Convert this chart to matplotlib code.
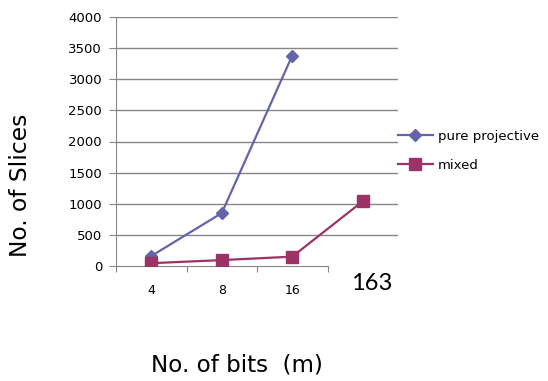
import matplotlib
matplotlib.use("Agg")
import matplotlib.pyplot as plt
import numpy as np

# Data
categories = ["4", "8", "16", "163"]
pure_projective = [160, 850, 3380]
mixed = [45, 95, 150, 1040]
y_ticks = [0, 500, 1000, 1500, 2000, 2500, 3000, 3500, 4000]

grid_col = "#868686"
blue = "#6464A8"
plum = "#9B3366"
FONT = "DejaVu Sans"

fig = plt.figure(figsize=(5.48, 3.81), dpi=100)
ax = fig.add_axes([116 / 548, 1 - 266 / 381, 282 / 548, 249 / 381])

x_all = np.arange(len(categories))
ax.plot(x_all[:len(pure_projective)], pure_projective, color=blue, lw=1.6,
        marker="D", markersize=6, label="pure projective", zorder=3)
ax.plot(x_all, mixed, color=plum, lw=1.6, marker="s", markersize=8,
        label="mixed", zorder=3)

ax.set_xlim(-0.5, len(categories) - 0.5)
ax.set_ylim(0, 4000)

# y axis
ax.set_yticks(y_ticks)
ax.set_yticklabels([str(v) for v in y_ticks], fontfamily=FONT, fontsize=9.5)
ax.yaxis.grid(True, color=grid_col, lw=1.0)
ax.get_ygridlines()[0].set_visible(False)
ax.tick_params(axis="y", length=5, color=grid_col, pad=5)

# x axis: boundary ticks, labels centred on the first three categories
ax.set_xticks(np.arange(-0.5, 3.0, 1.0))
ax.set_xticklabels([])
ax.set_xticks(x_all[:3], minor=True)
ax.set_xticklabels(categories[:3], minor=True, fontfamily=FONT, fontsize=9)
ax.tick_params(axis="x", which="major", length=4, color=grid_col)
ax.tick_params(axis="x", which="minor", length=0, pad=13)

for s in ["top", "right"]:
    ax.spines[s].set_visible(False)
ax.spines["left"].set_color(grid_col)
ax.spines["bottom"].set_color(grid_col)
ax.spines["bottom"].set_bounds(-0.5, 2.5)
ax.set_axisbelow(True)

# last category label drawn large beside the axis
ax.annotate(categories[3], xy=(x_all[3], 0), xytext=(9, -17),
            textcoords="offset pixels", ha="center", va="center",
            fontfamily="Lato", fontsize=17, annotation_clip=False)

fig.text(21 / 548, 1 - 185 / 381, "No. of Slices", rotation=90,
         ha="center", va="center", fontfamily=FONT, fontsize=16.8)
fig.text(236.5 / 548, 1 - 365 / 381, "No. of bits  (m)", ha="center",
         va="center", fontfamily=FONT, fontsize=16.6)

fig.legend(loc="center left", bbox_to_anchor=(398 / 548, 1 - 151 / 381),
           frameon=False, borderpad=0, borderaxespad=0, handlelength=2.65,
           handletextpad=0.4, labelspacing=1.2,
           prop={"family": FONT, "size": 9.5})

fig.savefig("out.png", dpi=100)
